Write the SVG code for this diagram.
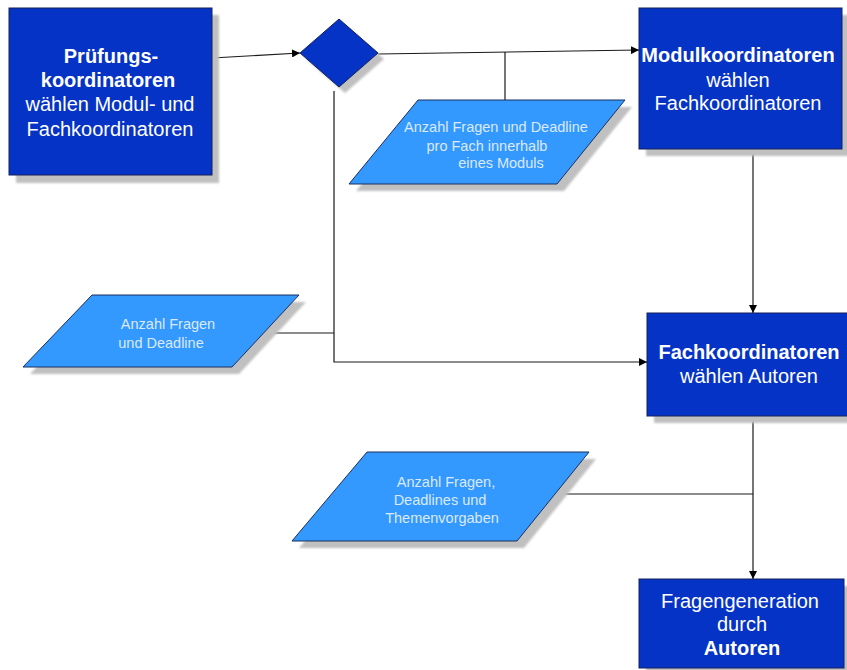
<svg xmlns="http://www.w3.org/2000/svg" width="847" height="670" viewBox="0 0 847 670">
  <style>
    .shadow { fill: #c0c0c0; filter: url(#soft); }
    .proc { fill: #0533c6; stroke: #14205a; stroke-width: 1; }
    .data { fill: #3399ff; stroke: #1d2f5c; stroke-width: 1; }
    .lbl { font-family: "Liberation Sans", Arial, sans-serif; font-size: 20px; fill: #ffffff; text-anchor: middle; }
    .b { font-weight: bold; }
    .dlbl { font-family: "Liberation Sans", Arial, sans-serif; font-size: 14.5px; fill: #dbe9ff; text-anchor: middle; }
    .wire { fill: none; stroke: #1a1a1a; stroke-width: 1.2; }
    .arrow { fill: none; stroke: #1a1a1a; stroke-width: 1.2; marker-end: url(#tip); }
  </style>
  <defs>
    <filter id="soft" x="-5%" y="-5%" width="110%" height="110%">
      <feGaussianBlur stdDeviation="0.8"/>
    </filter>
    <marker id="tip" viewBox="0 0 10 10" refX="10" refY="5" markerWidth="8" markerHeight="8" markerUnits="userSpaceOnUse" orient="auto">
      <path d="M0,0 L10,5 L0,10 Z" fill="#000000"/>
    </marker>
  </defs>

  <rect width="847" height="670" fill="#ffffff"/>

  <!-- connectors -->
  <g id="connectors">
    <line class="arrow" x1="212" y1="58" x2="300" y2="53"/>
    <line class="arrow" x1="378" y1="54" x2="639" y2="50"/>
    <line class="wire" x1="505" y1="52" x2="505" y2="100"/>
    <polyline class="arrow" points="334,91 334,362 647,362"/>
    <line class="wire" x1="263" y1="333" x2="334" y2="333"/>
    <line class="arrow" x1="753" y1="149" x2="753" y2="313"/>
    <line class="arrow" x1="753" y1="416" x2="753" y2="579"/>
    <line class="wire" x1="555" y1="494" x2="753" y2="494"/>
  </g>

  <!-- start: exam coordinators -->
  <g id="pruefungskoordinatoren">
    <rect class="shadow" x="16" y="15" width="203" height="168"/>
    <rect class="proc" x="9" y="8" width="203" height="167"/>
    <text class="lbl b" x="111" y="63">Prüfungs-</text>
    <text class="lbl b" x="108" y="87">koordinatoren</text>
    <text class="lbl" x="110" y="111">wählen Modul- und</text>
    <text class="lbl" x="110" y="136">Fachkoordinatoren</text>
  </g>

  <!-- decision -->
  <g id="entscheidung">
    <polygon class="shadow" points="345,25 384,59 345,93 306,59"/>
    <polygon class="proc" points="339,19 378,53 339,87 300,53"/>
  </g>

  <!-- module coordinators -->
  <g id="modulkoordinatoren">
    <rect class="shadow" x="646" y="15" width="203" height="141"/>
    <rect class="proc" x="639" y="8" width="203" height="141"/>
    <text class="lbl b" x="738" y="62">Modulkoordinatoren</text>
    <text class="lbl" x="738" y="87">wählen</text>
    <text class="lbl" x="738" y="110">Fachkoordinatoren</text>
  </g>

  <!-- data: questions per subject -->
  <g id="daten-fach">
    <polygon class="shadow" points="425,107 632,107 564,191 356,191"/>
    <polygon class="data" points="418,100 625,100 557,184 349,184"/>
    <text class="dlbl" x="496" y="132">Anzahl Fragen und Deadline</text>
    <text class="dlbl" x="487" y="151">pro Fach innerhalb</text>
    <text class="dlbl" x="501" y="168">eines Moduls</text>
  </g>

  <!-- data: questions and deadline -->
  <g id="daten-gesamt">
    <polygon class="shadow" points="99,302 306,302 239,374 30,374"/>
    <polygon class="data" points="92,295 299,295 232,367 23,367"/>
    <text class="dlbl" x="168" y="329">Anzahl Fragen</text>
    <text class="dlbl" x="161" y="348">und Deadline</text>
  </g>

  <!-- subject coordinators -->
  <g id="fachkoordinatoren">
    <rect class="shadow" x="654" y="320" width="204" height="103"/>
    <rect class="proc" x="647" y="313" width="204" height="103"/>
    <text class="lbl b" x="749" y="359">Fachkoordinatoren</text>
    <text class="lbl" x="749" y="383">wählen Autoren</text>
  </g>

  <!-- data: topics for authors -->
  <g id="daten-autoren">
    <polygon class="shadow" points="374,459 596,459 524,548 299,548"/>
    <polygon class="data" points="367,452 589,452 517,541 292,541"/>
    <text class="dlbl" x="446" y="487">Anzahl Fragen,</text>
    <text class="dlbl" x="440" y="505">Deadlines und</text>
    <text class="dlbl" x="442" y="523">Themenvorgaben</text>
  </g>

  <!-- question generation -->
  <g id="fragengeneration">
    <rect class="shadow" x="646" y="586" width="205" height="89"/>
    <rect class="proc" x="639" y="579" width="205" height="89"/>
    <text class="lbl" x="740" y="608">Fragengeneration</text>
    <text class="lbl" x="742" y="631">durch</text>
    <text class="lbl b" x="742" y="655">Autoren</text>
  </g>
</svg>
